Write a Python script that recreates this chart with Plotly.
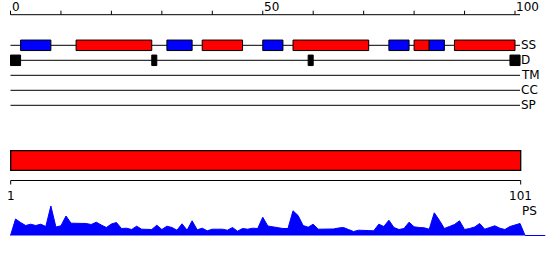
import plotly.graph_objects as go

# ---------------- data ----------------
seq_len = 101
top_ticks = list(range(0, 101, 10))
top_tick_labels = [0, 50, 100]

track_names = ["SS", "D", "TM", "CC", "SP"]

ss_starts = [2, 13, 31, 38, 50, 56, 75, 80, 83, 88]
ss_ends = [8, 28, 36, 46, 54, 71, 79, 83, 86, 100]
ss_types = ["E", "H", "E", "H", "E", "H", "E", "H", "E", "H"]

d_starts = [0, 28, 59, 99]
d_ends = [2, 29, 60, 101]

bar_start = 1
bar_end = 101

ps_values = [0, 16.5, 13, 10, 11.3, 10, 11.3, 9, 29.5, 8.5, 9.7, 19.5, 12.3, 12.3, 12.3,
             12, 11, 13.3, 10.5, 8, 11.5, 13, 7, 7.3, 6, 9.3, 6.3, 6.3, 6, 10.3,
             6, 9.3, 8, 5.3, 11.7, 5.3, 14.7, 5.7, 7.3, 4.7, 6.3, 6.3, 6.3, 5.3, 8,
             4.3, 7, 6.3, 7.3, 7, 18.3, 9.5, 8.5, 8, 7, 7, 24.7, 20, 10, 8.3,
             11.3, 6.3, 6.3, 6.3, 6.5, 7.5, 8, 6, 4, 5.3, 5.3, 5.3, 4.7, 11.3, 9,
             15.3, 8, 6, 7, 13.3, 8.7, 8, 7.7, 6.3, 22.7, 15.3, 7, 9, 11, 14.7,
             6, 7, 8.5, 12, 6.3, 8, 9.7, 7.3, 6, 9, 10.7, 12,
             0, 0, 0, 0, 0]

# ---------------- styles ----------------
ss_colors = {"H": "#ff0000", "E": "#0000ff"}
W, H = 550, 260
PX0, PXU = 10.5, 5.045          # top scale: pixel of 0, pixels per unit
BX0, BXU = 10.7, 5.1            # bottom scale: pixel of 1, pixels per unit
FONT = dict(family="DejaVu Sans", size=12, color="black")

row_y = {"SS": 45.3, "D": 60.3, "TM": 75.3, "CC": 90.3, "SP": 105.3}
box_h = 10.5

fig = go.Figure()

# profile area (own y axis, 1 unit ~ 1 px)
fig.add_trace(go.Scatter(
    x=list(range(len(ps_values))), y=ps_values, mode="lines",
    line=dict(color="#0000ff", width=1), fill="tozeroy", fillcolor="#0000ff",
    xaxis="x", yaxis="y2", hoverinfo="skip", showlegend=False))

# invisible anchor trace for bottom scale axis
fig.add_trace(go.Scatter(x=[bar_start, bar_end], y=[0, 0], mode="markers",
                         marker=dict(opacity=0), xaxis="x2", yaxis="y",
                         hoverinfo="skip", showlegend=False))

shapes = []
ann = []

# top scale
ty = 14.7
shapes.append(dict(type="line", xref="x", yref="y", x0=0, x1=seq_len, y0=ty, y1=ty,
                   line=dict(color="black", width=1)))
for t in top_ticks:
    shapes.append(dict(type="line", xref="x", yref="y", x0=t, x1=t, y0=ty - 4, y1=ty,
                       line=dict(color="black", width=1)))
for t in top_tick_labels:
    ann.append(dict(x=t, y=6.5, xref="x", yref="y", text=str(t), showarrow=False,
                    xanchor="left", yanchor="middle", font=FONT, xshift=-1))

# tracks
for name in track_names:
    yy = row_y[name]
    shapes.append(dict(type="line", xref="x", yref="y", x0=0, x1=seq_len, y0=yy, y1=yy,
                       line=dict(color="black", width=1), layer="below"))
    ann.append(dict(x=seq_len, y=yy, xref="x", yref="y", text=name, showarrow=False,
                    xanchor="left", yanchor="middle", font=FONT, xshift=-1))

for s, e, t in zip(ss_starts, ss_ends, ss_types):
    yy = row_y["SS"]
    shapes.append(dict(type="rect", xref="x", yref="y", x0=s, x1=e,
                       y0=yy - box_h / 2, y1=yy + box_h / 2,
                       fillcolor=ss_colors[t], line=dict(color="black", width=1)))

for s, e in zip(d_starts, d_ends):
    yy = row_y["D"]
    shapes.append(dict(type="rect", xref="x", yref="y", x0=s, x1=e,
                       y0=yy - box_h / 2, y1=yy + box_h / 2,
                       fillcolor="black", line=dict(color="black", width=1)))

# bottom bar + scale
shapes.append(dict(type="rect", xref="x2", yref="y", x0=bar_start, x1=bar_end,
                   y0=150.7, y1=170.3, fillcolor="#ff0000",
                   line=dict(color="black", width=1.3)))
by = 180.5
shapes.append(dict(type="line", xref="x2", yref="y", x0=bar_start, x1=bar_end, y0=by, y1=by,
                   line=dict(color="black", width=1)))
for t in (bar_start, bar_end):
    shapes.append(dict(type="line", xref="x2", yref="y", x0=t, x1=t, y0=by, y1=by + 4,
                       line=dict(color="black", width=1)))
    ann.append(dict(x=t, y=196, xref="x2", yref="y", text=str(t), showarrow=False,
                    xanchor="center", yanchor="middle", font=FONT))
ann.append(dict(x=bar_end, y=211, xref="x2", yref="y", text="PS", showarrow=False,
                xanchor="left", yanchor="middle", font=FONT, xshift=-1))

d0 = 24 / H
fig.update_layout(
    width=W, height=H, margin=dict(l=0, r=0, t=0, b=0),
    paper_bgcolor="white", plot_bgcolor="rgba(0,0,0,0)",
    xaxis=dict(range=[-PX0 / PXU, (W - PX0) / PXU], visible=False, fixedrange=True),
    xaxis2=dict(range=[bar_start - BX0 / BXU, bar_start + (W - BX0) / BXU], visible=False,
                overlaying="x", anchor="y", fixedrange=True),
    yaxis=dict(range=[H, 0], domain=[0, 1], visible=False, fixedrange=True),
    yaxis2=dict(range=[-0.5, 29.5], domain=[d0, d0 + 30 / H], visible=False,
                anchor="x", fixedrange=True),
    shapes=shapes, annotations=ann, showlegend=False,
)

fig.write_html("out.html", config={"displayModeBar": False})
